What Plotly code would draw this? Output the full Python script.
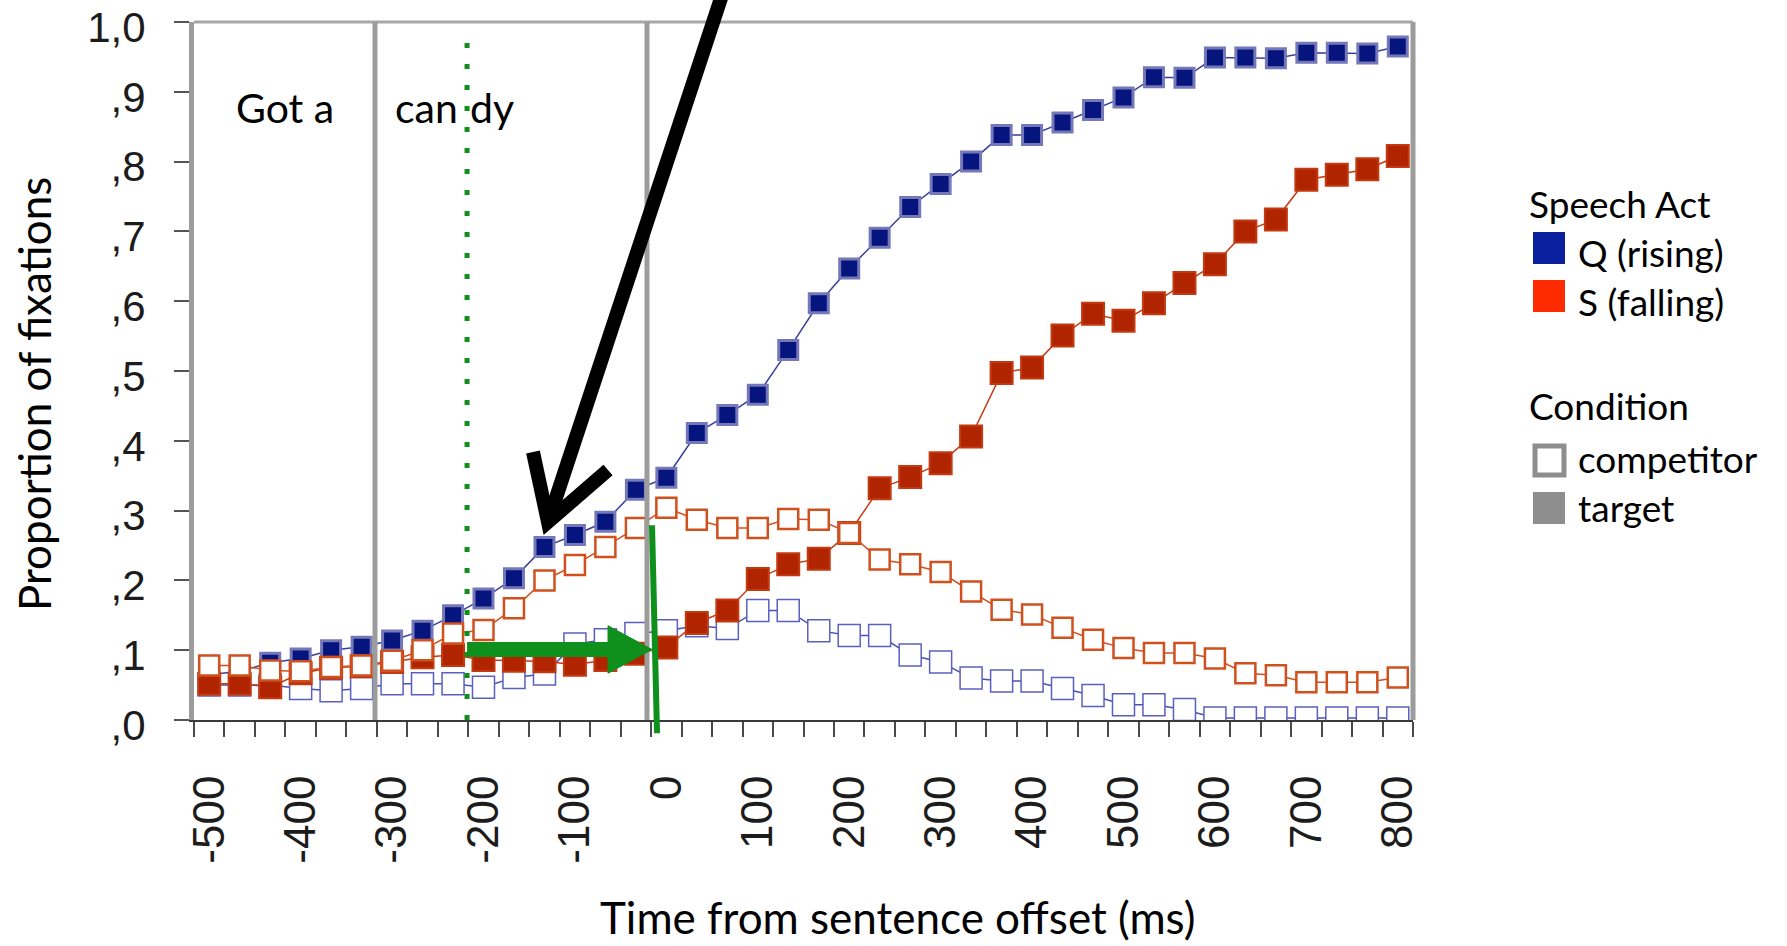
import plotly.graph_objects as go

# Time bins (ms from sentence offset), one per video frame
time_ms = [-500.0, -466.7, -433.3, -400.0, -366.7, -333.3, -300.0, -266.7, -233.3, -200.0,
           -166.7, -133.3, -100.0, -66.7, -33.3, 0.0, 33.3, 66.7, 100.0, 133.3,
           166.7, 200.0, 233.3, 266.7, 300.0, 333.3, 366.7, 400.0, 433.3, 466.7,
           500.0, 533.3, 566.7, 600.0, 633.3, 666.7, 700.0, 733.3, 766.7, 800.0]

# Proportion of fixations per speech act (Q = rising, S = falling) and condition
q_target = [0.065, 0.070, 0.082, 0.088, 0.100, 0.105, 0.114, 0.128, 0.150, 0.174,
            0.203, 0.248, 0.265, 0.284, 0.330, 0.347, 0.411, 0.437, 0.466, 0.530,
            0.597, 0.647, 0.691, 0.735, 0.768, 0.800, 0.838, 0.838, 0.856, 0.874,
            0.892, 0.921, 0.920, 0.949, 0.949, 0.948, 0.956, 0.956, 0.955, 0.965]
q_competitor = [0.050, 0.050, 0.050, 0.045, 0.042, 0.045, 0.052, 0.052, 0.052, 0.047,
                0.061, 0.066, 0.109, 0.115, 0.124, 0.128, 0.135, 0.131, 0.157, 0.157,
                0.128, 0.121, 0.121, 0.093, 0.083, 0.060, 0.056, 0.056, 0.045, 0.035,
                0.022, 0.022, 0.015, 0.003, 0.003, 0.003, 0.003, 0.003, 0.003, 0.003]
s_target = [0.052, 0.052, 0.047, 0.067, 0.075, 0.077, 0.083, 0.090, 0.093, 0.086,
            0.085, 0.084, 0.079, 0.086, 0.095, 0.104, 0.139, 0.157, 0.202, 0.223,
            0.231, 0.268, 0.332, 0.348, 0.368, 0.406, 0.497, 0.505, 0.551, 0.582,
            0.572, 0.597, 0.626, 0.653, 0.700, 0.717, 0.774, 0.781, 0.789, 0.808]
s_competitor = [0.078, 0.078, 0.071, 0.070, 0.076, 0.078, 0.085, 0.100, 0.124, 0.129,
                0.160, 0.200, 0.222, 0.248, 0.275, 0.304, 0.287, 0.275, 0.275, 0.288,
                0.287, 0.268, 0.230, 0.223, 0.212, 0.184, 0.158, 0.151, 0.132, 0.115,
                0.103, 0.096, 0.096, 0.088, 0.067, 0.064, 0.054, 0.054, 0.054, 0.061]

x_tick_vals = [-500, -400, -300, -200, -100, 0, 100, 200, 300, 400, 500, 600, 700, 800]
x_tick_text = ["-500", "-400", "-300", "-200", "-100", "0", "100", "200",
               "300", "400", "500", "600", "700", "800"]
y_tick_vals = [0.0, 0.1, 0.2, 0.3, 0.4, 0.5, 0.6, 0.7, 0.8, 0.9, 1.0]
y_tick_text = [",0", ",1", ",2", ",3", ",4", ",5", ",6", ",7", ",8", ",9", "1,0"]

# Word boundaries of "Got a candy" and the syllable split inside "candy"
word_boundaries_ms = [-318.7, -21.2]
syllable_split_ms = -218.0
offset_line_ms = [-15.7, -10.2]      # slanted green offset marker (top, bottom)
arrow_level = 0.101                  # height of the green horizontal arrow

# ---- layout geometry ----
W, H = 1787, 946
ML, MR, MT, MB = 194, 374, 22, 226
half_bin = (time_ms[1] - time_ms[0]) / 2
X_RANGE = [time_ms[0] - half_bin, time_ms[-1] + half_bin]
bin_edges = [t - half_bin for t in time_ms] + [time_ms[-1] + half_bin]


def px(xf):
    return (xf - ML) / (W - ML - MR)


def py(yf):
    return (H - MB - yf) / (H - MT - MB)


def xpaper(ms):
    return (ms - X_RANGE[0]) / (X_RANGE[1] - X_RANGE[0])


GREEN = "#0f8f1c"
GRAY_LINE = "#9c9c9c"
X_TICK_FONT = dict(family="Liberation Sans, Arial, sans-serif", size=44, color="#1c1c1c")
Y_TICK_FONT = dict(family="Liberation Sans, Arial, sans-serif", size=42, color="#1c1c1c")
TEXT_FONT = "Lato, Open Sans, sans-serif"

fig = go.Figure()

fig.add_trace(go.Scatter(
    x=time_ms, y=q_competitor, mode="lines+markers", name="Q competitor",
    line=dict(color="#4a50b4", width=1.5),
    marker=dict(symbol="square", size=22, color="white",
                line=dict(color="#5a60c0", width=1.5)),
    showlegend=False))
fig.add_trace(go.Scatter(
    x=time_ms, y=q_target, mode="lines+markers", name="Q target",
    line=dict(color="#3a3e9c", width=1.5),
    marker=dict(symbol="square", size=19, color="#06147e",
                line=dict(color="#7478b8", width=3)),
    showlegend=False))
fig.add_trace(go.Scatter(
    x=time_ms, y=s_target, mode="lines+markers", name="S target",
    line=dict(color="#c63a12", width=1.5),
    marker=dict(symbol="square", size=22, color="#b02400",
                line=dict(color="#c43a10", width=2)),
    showlegend=False))
fig.add_trace(go.Scatter(
    x=time_ms, y=s_competitor, mode="lines+markers", name="S competitor",
    line=dict(color="#d0501e", width=1.5),
    marker=dict(symbol="square", size=20, color="white",
                line=dict(color="#d0501e", width=2.5)),
    showlegend=False))

shapes = []
# plot frame: top and right borders
shapes.append(dict(type="line", xref="paper", yref="paper", x0=0, x1=1, y0=1, y1=1,
                   line=dict(color="#a8a8a8", width=3)))
shapes.append(dict(type="line", xref="paper", yref="paper", x0=1, x1=1, y0=0, y1=1,
                   line=dict(color=GRAY_LINE, width=5)))
# word boundaries
for wb in word_boundaries_ms:
    shapes.append(dict(type="line", xref="x", yref="y", x0=wb, x1=wb, y0=0, y1=1,
                       line=dict(color=GRAY_LINE, width=5)))
# syllable split (dotted)
shapes.append(dict(type="line", xref="x", yref="y", x0=syllable_split_ms, x1=syllable_split_ms,
                   y0=0, y1=0.98, line=dict(color=GREEN, width=5, dash="5px,16px")))
# green horizontal arrow
head_base_ms = -63.8
shapes.append(dict(type="line", xref="x", yref="y", x0=syllable_split_ms, x1=head_base_ms,
                   y0=arrow_level, y1=arrow_level, line=dict(color=GREEN, width=15)))
shapes.append(dict(type="path", xref="x", yref="y",
                   path=f"M {head_base_ms},{arrow_level + 0.034} L {offset_line_ms[0]},{arrow_level} "
                        f"L {head_base_ms},{arrow_level - 0.034} Z",
                   fillcolor=GREEN, line=dict(color=GREEN, width=1)))
# slanted green offset line, reaching below the axis
shapes.append(dict(type="line", xref="paper", yref="paper",
                   x0=xpaper(offset_line_ms[0]), y0=0.279,
                   x1=xpaper(offset_line_ms[1]), y1=-0.019,
                   line=dict(color=GREEN, width=6)))
# black pointer arrow from above the chart
tip = (px(548), py(522))
shapes.append(dict(type="line", xref="paper", yref="paper",
                   x0=px(727), y0=py(-20), x1=tip[0], y1=tip[1],
                   line=dict(color="black", width=14)))
shapes.append(dict(type="path", xref="paper", yref="paper",
                   path=f"M {px(533)},{py(452)} L {tip[0]},{tip[1]} L {px(608)},{py(470)}",
                   line=dict(color="black", width=14)))

# legend swatches
def swatch(x0, y0, size, fill, edge=None, edge_w=0):
    return dict(type="rect", xref="paper", yref="paper",
                x0=px(x0), x1=px(x0 + size), y0=py(y0 + size), y1=py(y0),
                fillcolor=fill,
                line=dict(color=edge if edge else fill, width=edge_w))


shapes.append(swatch(1533, 232, 32, "#0a1f9e"))
shapes.append(swatch(1533, 280, 32, "#ff2b00"))
shapes.append(swatch(1535, 446, 29, "white", "#8e8e8e", 5))
shapes.append(swatch(1533, 492, 32, "#8e8e8e"))

annotations = []
# words of the sentence
annotations.append(dict(x=-417, y=0.878, xref="x", yref="y", text="Got a", showarrow=False,
                        font=dict(family=TEXT_FONT, size=41, color="black"),
                        xanchor="center", yanchor="middle"))
annotations.append(dict(x=syllable_split_ms, y=0.878, xref="x", yref="y", text="can",
                        showarrow=False, xshift=-7,
                        font=dict(family=TEXT_FONT, size=41, color="black"),
                        xanchor="right", yanchor="middle"))
annotations.append(dict(x=syllable_split_ms, y=0.878, xref="x", yref="y", text="dy",
                        showarrow=False, xshift=1,
                        font=dict(family=TEXT_FONT, size=41, color="black"),
                        xanchor="left", yanchor="middle"))
# axis titles
annotations.append(dict(x=px(897), y=py(917), xref="paper", yref="paper",
                        text="Time from sentence offset (ms)", showarrow=False,
                        font=dict(family=TEXT_FONT, size=44, color="black"),
                        xanchor="center", yanchor="middle"))
annotations.append(dict(x=px(34), y=py(394), xref="paper", yref="paper",
                        text="Proportion of fixations", showarrow=False, textangle=-90,
                        font=dict(family=TEXT_FONT, size=44, color="black"),
                        xanchor="center", yanchor="middle"))
# legend text
legend_rows = [("Speech Act", 1527, 203), ("Q (rising)", 1576, 252), ("S (falling)", 1576, 301),
               ("Condition", 1527, 405), ("competitor", 1576, 458), ("target", 1576, 507)]
for label, lx, ly in legend_rows:
    annotations.append(dict(x=px(lx), y=py(ly), xref="paper", yref="paper", text=label,
                            showarrow=False, xanchor="left", yanchor="middle",
                            font=dict(family=TEXT_FONT, size=37, color="black")))

fig.update_layout(
    width=W, height=H,
    margin=dict(l=ML, r=MR, t=MT, b=MB, pad=0, autoexpand=False),
    paper_bgcolor="white", plot_bgcolor="white",
    showlegend=False,
    shapes=shapes,
    annotations=annotations,
    xaxis=dict(
        range=X_RANGE, showgrid=False, zeroline=False, automargin=False,
        showline=True, linecolor="#3a3a3a", linewidth=2,
        tickmode="array", tickvals=x_tick_vals, ticktext=x_tick_text,
        ticks="", tickangle=-90, tickfont=X_TICK_FONT, ticklabelstandoff=36,
        minor=dict(tickmode="array", tickvals=bin_edges, ticks="outside",
                   ticklen=15, tickwidth=2, tickcolor="#4a4a4a", showgrid=False),
    ),
    yaxis=dict(
        range=[0, 1], showgrid=False, zeroline=False, automargin=False,
        showline=True, linecolor=GRAY_LINE, linewidth=5,
        tickmode="array", tickvals=y_tick_vals, ticktext=y_tick_text,
        ticks="outside", ticklen=15, tickwidth=2, tickcolor="#555555",
        tickfont=Y_TICK_FONT, ticklabelstandoff=20, ticklabelshift=5,
        ticklabeloverflow="allow",
    ),
)

fig.write_html("out.html")
